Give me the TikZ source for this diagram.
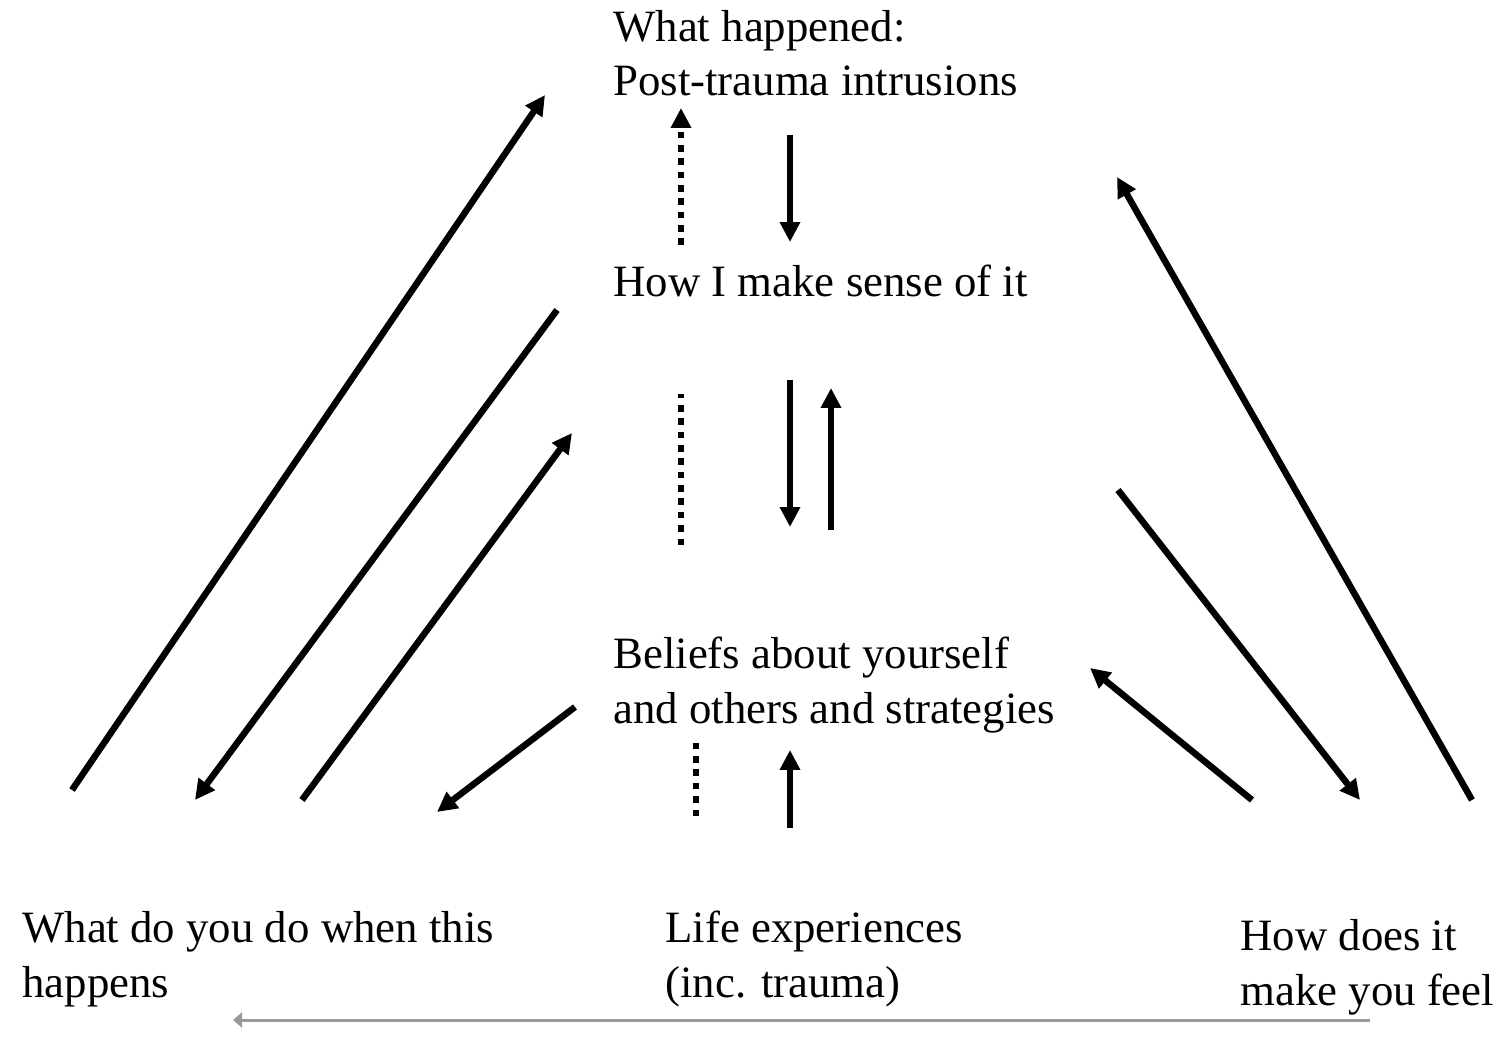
\documentclass[tikz,border=0pt]{standalone}
\usepackage{fontspec}
\setmainfont{Liberation Serif}
\usetikzlibrary{arrows.meta}

\begin{document}
\begin{tikzpicture}[x=0.02cm,y=-0.02cm]
	\tikzstyle{t}=[anchor=base west,align=left,inner sep=0,font=\fontsize{25.5}{31.3}\selectfont]
	\tikzstyle{a}=[line width=3.7pt,-{Triangle[length=0.4cm,width=0.39cm]}]
	\tikzstyle{d}=[line width=3.7pt,dash pattern=on 0.13cm off 0.137cm]
	\tikzstyle{g}=[line width=1.7pt,black!40,-{Triangle[length=0.18cm,width=0.3cm]}]
	\useasboundingbox (0,0) rectangle (1501,1057);

	% base anchor sits on the last line
	\node[t] (happ) at (613,96) {What happened:\\Post-trauma intrusions};
	\node[t] (sense) at (613,297) {How I make sense of it};
	\node[t] (beli) at (613,723) {Beliefs about yourself\\and others and strategies};
	\node[t] (do) at (22,997) {What do you do when this\\happens};
	\node[t] (life) at (665,997) {Life experiences\\(inc. trauma)};
	\node[t] (feel) at (1240,1005) {How does it\\make you feel};

	\coordinate (l1) at (72,790);   \coordinate (l2) at (545,95);
	\coordinate (l3) at (557,310);  \coordinate (l4) at (195,800);
	\coordinate (l5) at (302,800);  \coordinate (l6) at (572,433);
	\coordinate (l7) at (575,707);  \coordinate (l8) at (437,812);
	\coordinate (m1) at (790,135);  \coordinate (m2) at (790,242);
	\coordinate (m3) at (790,380);  \coordinate (m4) at (790,527);
	\coordinate (m5) at (831,530);  \coordinate (m6) at (831,388);
	\coordinate (m7) at (790,828);  \coordinate (m8) at (790,750);
	\coordinate (r1) at (1252,800); \coordinate (r2) at (1090,668);
	\coordinate (r3) at (1118,490); \coordinate (r4) at (1360,800);
	\coordinate (r5) at (1472,800); \coordinate (r6) at (1117,177);
	\coordinate (d1) at (681,245);  \coordinate (d2) at (681,108);
	\coordinate (d3) at (681,545);  \coordinate (d4) at (681,394);
	\coordinate (d5) at (696,816);  \coordinate (d6) at (696,736);
	\coordinate (g1) at (1370,1020); \coordinate (g2) at (233,1020);

	\foreach \from/\to in {l1/l2,l3/l4,l5/l6,l7/l8,m1/m2,m3/m4,m5/m6,m7/m8,r1/r2,r3/r4,r5/r6}
	\draw [a] (\from) -- (\to);

	\draw [d,-{Triangle[length=0.4cm,width=0.39cm]}] (d1) -- (d2);
	\foreach \from/\to in {d3/d4,d5/d6}
	\draw [d] (\from) -- (\to);

	\draw [g] (g1) -- (g2);
\end{tikzpicture}
\end{document}
